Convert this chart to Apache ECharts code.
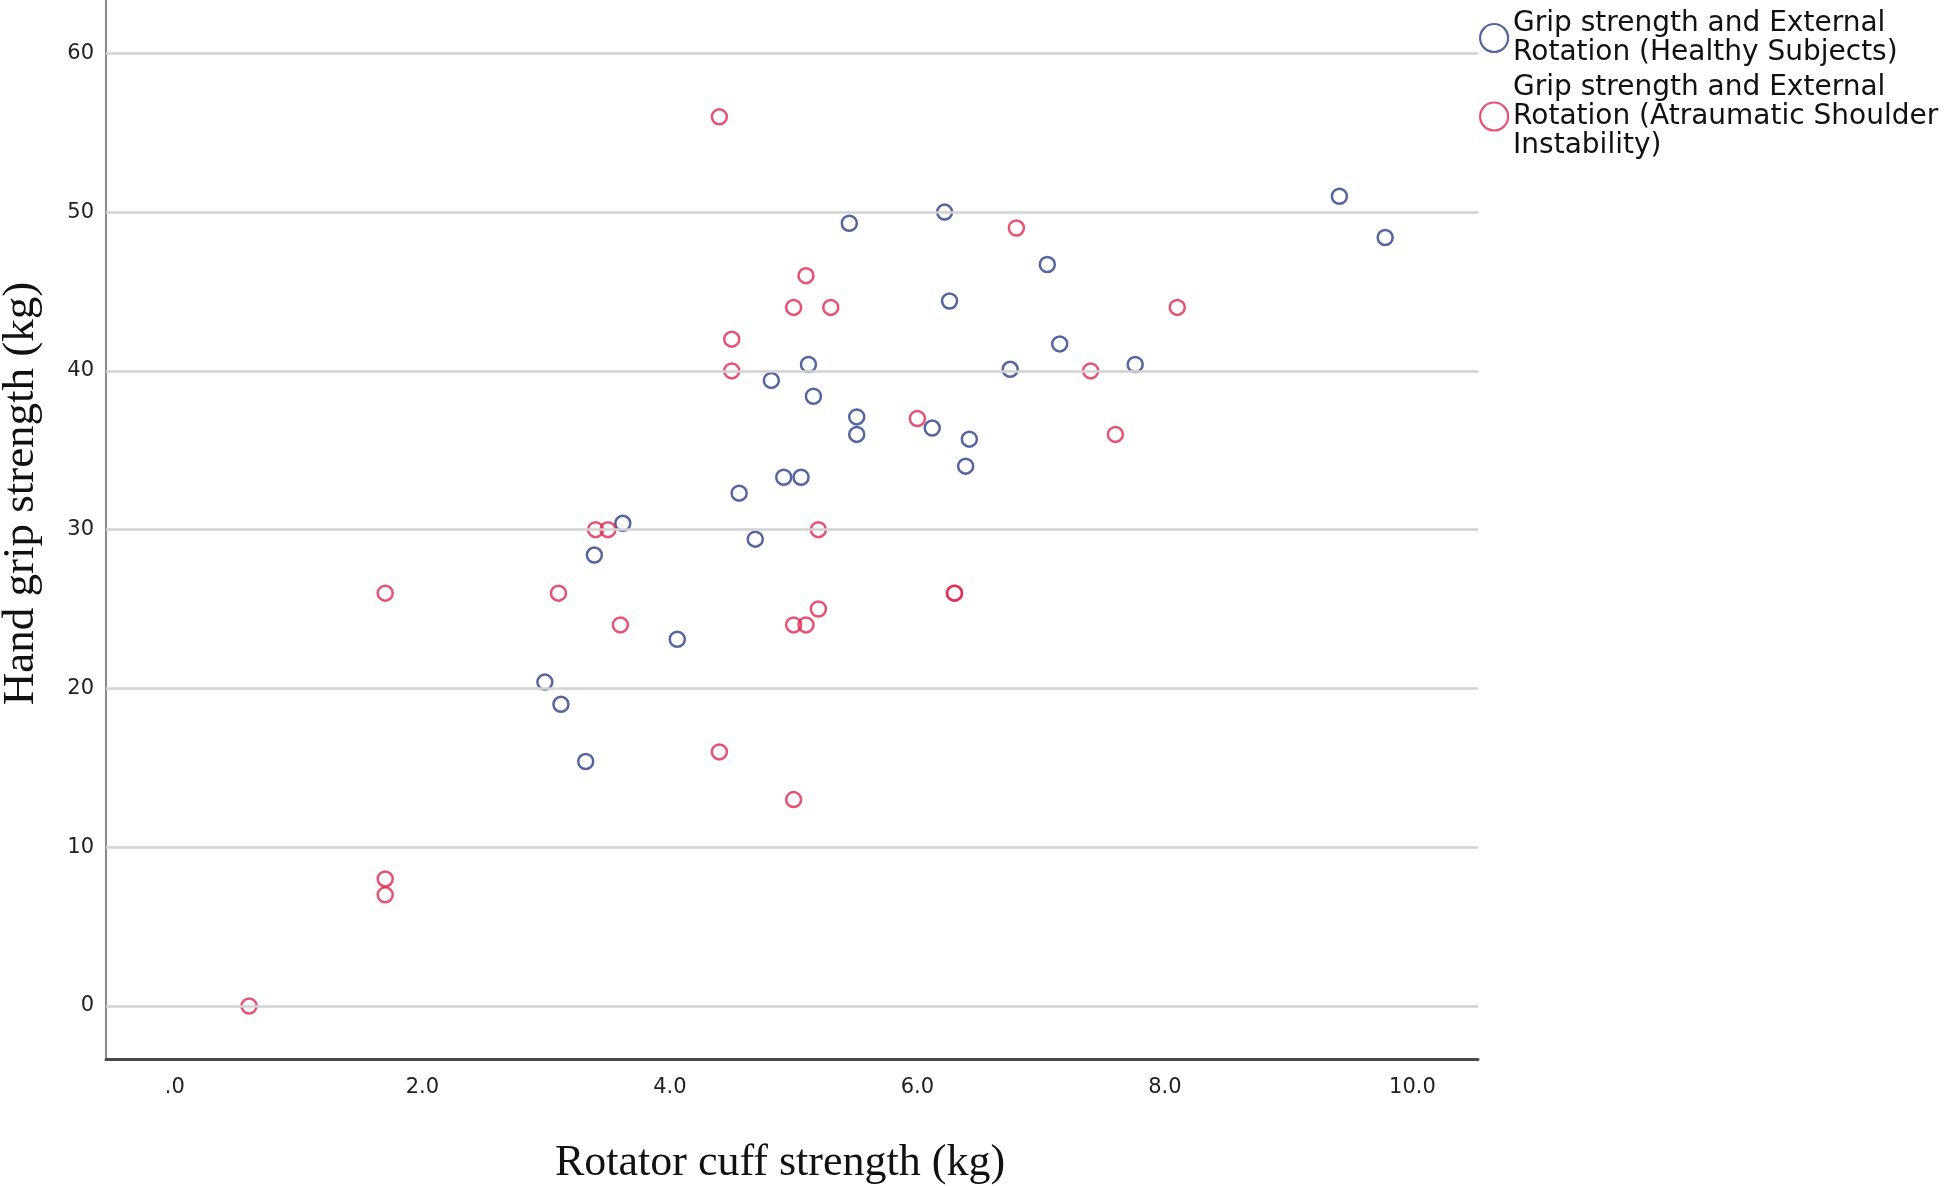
<!DOCTYPE html>
<html>
<head>
<meta charset="utf-8">
<script src="https://cdn.jsdelivr.net/npm/echarts@6/dist/echarts.min.js"></script>
<style>
  html, body { margin: 0; padding: 0; background: #ffffff; }
  #chart { width: 1944px; height: 1186px; }
</style>
</head>
<body>
<div id="chart"></div>
<script>
// ---- data ----
const healthyName = 'Grip strength and External\nRotation (Healthy Subjects)';
const instabName = 'Grip strength and External\nRotation (Atraumatic Shoulder\nInstability)';

const healthyX = [9.41, 9.78, 5.45, 6.22, 7.05, 6.26, 7.15, 6.75, 7.76, 5.12, 4.82, 5.16, 5.51, 5.51, 6.12, 6.42, 6.39, 4.92, 5.06, 4.56, 3.62, 4.69, 3.39, 4.06, 2.99, 3.12, 3.32];
const healthyY = [51.0, 48.4, 49.3, 50.0, 46.7, 44.4, 41.7, 40.1, 40.4, 40.4, 39.4, 38.4, 37.1, 36.0, 36.4, 35.7, 34.0, 33.3, 33.3, 32.3, 30.4, 29.4, 28.4, 23.1, 20.4, 19.0, 15.4];

const instabX = [4.4, 6.8, 5.1, 5.0, 5.3, 8.1, 4.5, 4.5, 7.4, 6.0, 7.6, 3.4, 3.5, 5.2, 1.7, 3.1, 6.3, 6.3, 5.2, 3.6, 5.0, 5.1, 4.4, 5.0, 1.7, 1.7, 0.6];
const instabY = [56, 49, 46, 44, 44, 44, 42, 40, 40, 37, 36, 30, 30, 30, 26, 26, 26, 26, 25, 24, 24, 24, 16, 13, 8, 7, 0];

const xTicks = [0, 2, 4, 6, 8, 10];
const yTicks = [0, 10, 20, 30, 40, 50, 60];

// ---- build ----
const blue = '#2b3f8a';
const red = '#e0284f';
const pair = (xs, ys) => xs.map((x, i) => [x, ys[i]]);

const chart = echarts.init(document.getElementById('chart'), null, { renderer: 'canvas' });

const option = {
  backgroundColor: '#ffffff',
  animation: false,
  grid: { left: 106, right: 466, top: 0, bottom: 127, containLabel: false, outerBoundsMode: 'none' },
  legend: {
    orient: 'vertical',
    left: 1474,
    top: 4,
    itemWidth: 28,
    itemHeight: 28,
    itemGap: 6,
    selectedMode: false,
    textStyle: { fontFamily: 'DejaVu Sans', fontSize: 28, lineHeight: 29, color: '#111' },
    data: [
      { name: healthyName, icon: 'circle', itemStyle: { color: '#ffffff', borderColor: blue, borderWidth: 2.2 } },
      { name: instabName, icon: 'circle', itemStyle: { color: '#ffffff', borderColor: red, borderWidth: 2.2 } }
    ]
  },
  xAxis: {
    type: 'value',
    min: -0.556,
    max: 10.53,
    name: 'Rotator cuff strength (kg)',
    nameLocation: 'middle',
    nameGap: 82,
    nameTextStyle: { fontFamily: 'Liberation Serif', fontSize: 44, color: '#111', padding: [0, 24, 0, 0] },
    axisLine: { show: true, onZero: false, lineStyle: { color: '#4a4a4a', width: 3 } },
    axisTick: { show: false },
    splitLine: { show: false },
    axisLabel: {
      customValues: xTicks,
      margin: 18,
      fontFamily: 'DejaVu Sans',
      fontSize: 21,
      color: '#222',
      formatter: v => (v === 0 ? '.0' : v.toFixed(1))
    }
  },
  yAxis: {
    type: 'value',
    min: -3.34,
    max: 63.36,
    name: 'Hand grip strength (kg)',
    nameLocation: 'middle',
    nameGap: 62,
    nameTextStyle: { fontFamily: 'Liberation Serif', fontSize: 45, color: '#111', padding: [0, 0, 0, 72] },
    axisLine: { show: true, onZero: false, lineStyle: { color: '#8a8a8a', width: 2 } },
    axisTick: { show: false },
    splitLine: { show: false },
    axisLabel: {
      customValues: yTicks,
      margin: 12,
      fontFamily: 'DejaVu Sans',
      fontSize: 21,
      color: '#222'
    }
  },
  series: [
    {
      type: 'line',
      data: [],
      silent: true,
      z: 1,
      markLine: {
        silent: true,
        symbol: ['none', 'none'],
        label: { show: false },
        lineStyle: { color: '#d2d2d2', width: 2.5, type: 'solid' },
        data: yTicks.map(v => ({ yAxis: v }))
      }
    },
    {
      name: healthyName,
      type: 'scatter',
      z: 3,
      symbol: 'circle',
      symbolSize: 15,
      itemStyle: { color: 'rgba(255,255,255,0)', borderColor: blue, borderWidth: 2.5 },
      data: pair(healthyX, healthyY)
    },
    {
      name: instabName,
      type: 'scatter',
      z: 3,
      symbol: 'circle',
      symbolSize: 15,
      itemStyle: { color: 'rgba(255,255,255,0)', borderColor: red, borderWidth: 2.5 },
      data: pair(instabX, instabY)
    }
  ]
};

chart.setOption(option);
</script>
</body>
</html>
